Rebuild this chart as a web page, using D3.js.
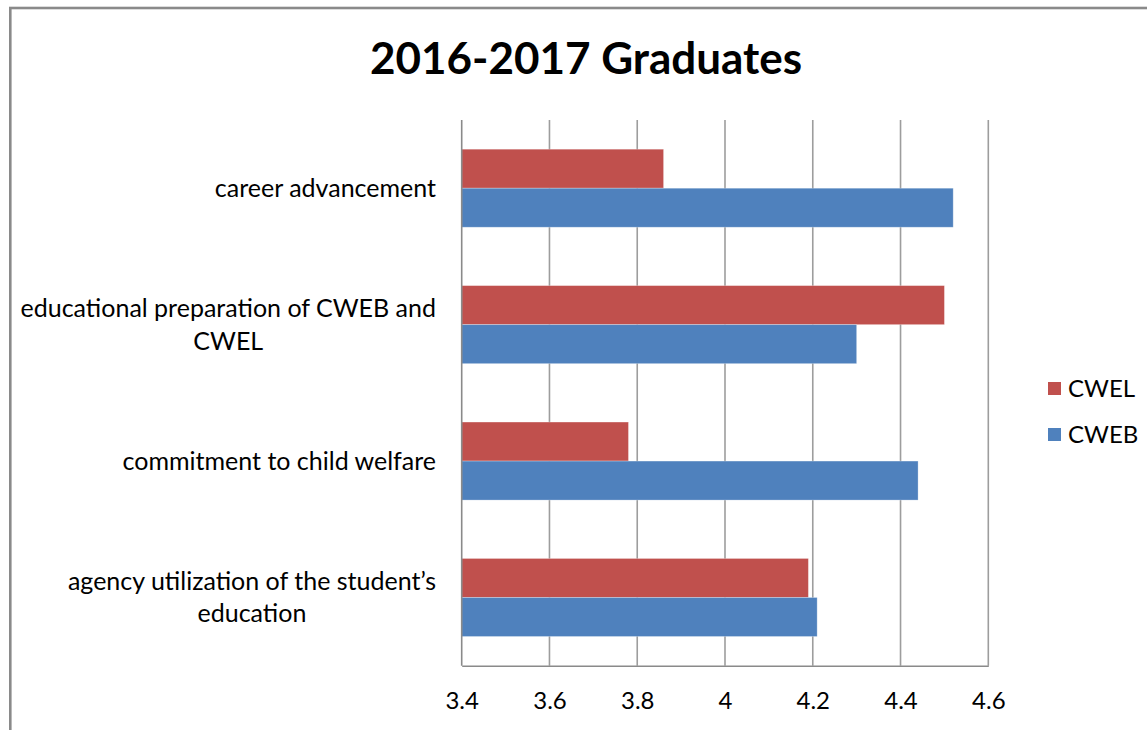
<!DOCTYPE html>
<html>
<head>
<meta charset="utf-8">
<script src="https://cdn.jsdelivr.net/npm/d3@7"></script>
<style>
  html, body { margin: 0; padding: 0; background: #fff; overflow: hidden; }
  svg { display: block; }
  text { font-family: Lato, "Open Sans", "Noto Sans", sans-serif; fill: #000; }
</style>
</head>
<body>
<svg id="chart" width="1147" height="730"></svg>
<script>
// ---- data ----
const title = "2016-2017 Graduates";
const categories = [
  "career advancement",
  "educational preparation of CWEB and\nCWEL",
  "commitment to child welfare",
  "agency utilization of the student\u2019s\neducation"
];
const seriesNames = ["CWEL", "CWEB"];
const cwelValues = [3.86, 4.50, 3.78, 4.19];
const cwebValues = [4.52, 4.30, 4.44, 4.21];
const tickValues = [3.4, 3.6, 3.8, 4.0, 4.2, 4.4, 4.6];
const xDomain = [3.4, 4.6];

// ---- layout ----
const colors = { CWEL: "#C0504D", CWEB: "#4F81BD" };
const plot = { left: 461.7, right: 988.3, top: 120, bottom: 665.7 };

const svg = d3.select("#chart");

// outer chart border
svg.append("rect")
  .attr("x", 10.3).attr("y", 8)
  .attr("width", 1400).attr("height", 1000)
  .attr("fill", "none").attr("stroke", "#8a8a8a").attr("stroke-width", 2.6);

// title
svg.append("text")
  .attr("x", 586).attr("y", 74)
  .attr("text-anchor", "middle")
  .style("font-size", "44px").style("font-weight", "bold")
  .text(title);

const x = d3.scaleLinear().domain(xDomain).range([plot.left, plot.right]);
const y0 = d3.scaleBand().domain(categories)
  .range([plot.top, plot.bottom])
  .paddingInner(0.428).paddingOuter(0.214);
const y1 = d3.scaleBand().domain(seriesNames).range([0, y0.bandwidth()]);

// gridlines
svg.append("g").selectAll("line").data(tickValues.slice(1))
  .join("line")
  .attr("x1", d => x(d)).attr("x2", d => x(d))
  .attr("y1", plot.top).attr("y2", plot.bottom)
  .attr("stroke", "#9d9d9d").attr("stroke-width", 1.6);

// bars
const rows = categories.map((c, i) => ({ c, vals: [
  { s: "CWEL", v: cwelValues[i] },
  { s: "CWEB", v: cwebValues[i] }
]}));
const groups = svg.append("g").selectAll("g").data(rows).join("g")
  .attr("transform", d => `translate(0,${y0(d.c)})`);
groups.selectAll("rect").data(d => d.vals).join("rect")
  .attr("x", x(xDomain[0]))
  .attr("y", d => y1(d.s))
  .attr("width", d => x(d.v) - x(xDomain[0]))
  .attr("height", y1.bandwidth())
  .attr("fill", d => colors[d.s])
  .attr("stroke", "rgba(255,255,255,0.35)").attr("stroke-width", 0.8);

// axes lines
svg.append("line")
  .attr("x1", plot.left).attr("x2", plot.left)
  .attr("y1", plot.top).attr("y2", plot.bottom)
  .attr("stroke", "#8a8a8a").attr("stroke-width", 1.6);

const xAxis = d3.axisBottom(x).tickValues(tickValues).tickSize(0).tickPadding(0)
  .tickFormat(d => String(+d.toFixed(1)));
const gx = svg.append("g").attr("transform", `translate(0,${plot.bottom})`).call(xAxis);
gx.select(".domain").attr("stroke", "#8a8a8a").attr("stroke-width", 1.6);
gx.selectAll("text")
  .attr("y", 0).attr("dy", null)
  .attr("transform", "translate(0,43)")
  .style("font-size", "24px")
  .style("font-family", "Lato, 'Open Sans', sans-serif")
  .attr("fill", "#000");

// category labels (right block, lines centred within block)
const labelRight = 436;
const lineH = 32.5;
categories.forEach(c => {
  const lines = c.split("\n");
  const g = svg.append("g");
  const cy = y0(c) + y0.bandwidth() / 2;
  const texts = lines.map((ln, i) => g.append("text")
    .attr("y", cy + (i - (lines.length - 1) / 2) * lineH)
    .attr("dy", "0.35em")
    .style("font-size", "25px")
    .text(ln));
  const maxW = d3.max(texts, t => t.node().getComputedTextLength());
  texts.forEach(t => t.attr("x", labelRight - maxW / 2).attr("text-anchor", "middle"));
});

// legend
const legendY = [388.5, 434.5];
seriesNames.forEach((s, i) => {
  svg.append("rect")
    .attr("x", 1048).attr("y", legendY[i] - 6.5)
    .attr("width", 13).attr("height", 13)
    .attr("fill", colors[s]);
  svg.append("text")
    .attr("x", 1068).attr("y", legendY[i])
    .attr("dy", "0.35em")
    .style("font-size", "24px")
    .text(s);
});
</script>
</body>
</html>
